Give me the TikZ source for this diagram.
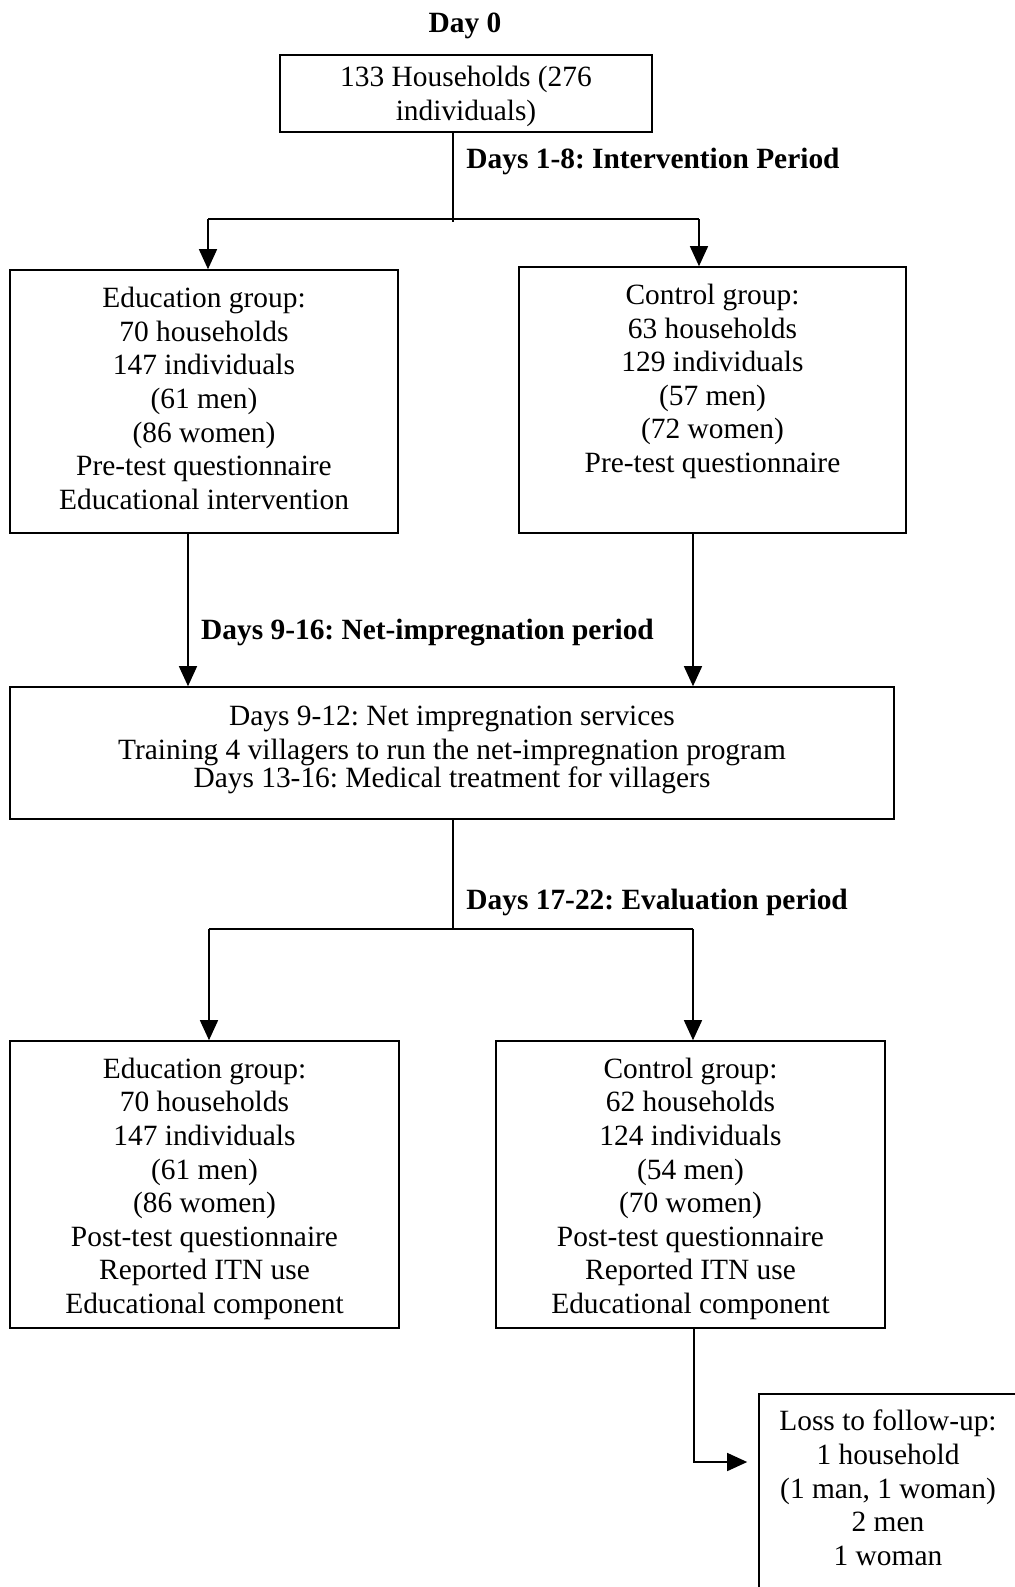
\documentclass[tikz,border=0pt]{standalone}
\usepackage{fontspec}
\setmainfont{Liberation Serif}
\usetikzlibrary{arrows.meta}
\frenchspacing
\begin{document}
\begin{tikzpicture}[x=0.5pt,y=-0.5pt,
  box/.style={draw, line width=0.8pt, align=center, inner sep=0pt,
    font=\fontsize{14.7}{16.8}\selectfont\frenchspacing},
  lbl/.style={inner sep=0pt, font=\fontsize{14.7}{16.8}\selectfont\bfseries\frenchspacing},
  conn/.style={line width=0.7pt},
  arr/.style={line width=0.7pt, -{Triangle[length=10pt,width=9pt]}}]
\useasboundingbox (0,0) rectangle (1015,1587);
\clip (0,0) rectangle (1015,1587);

\node[lbl] (d0) at (465,26) {Day 0};
\node[box, minimum width=186pt, minimum height=38.5pt] (top) at (466,93.5)
  {133 Households (276\\individuals)\\[-16.8pt]\mbox{}};
\node[lbl, anchor=west] (l1) at (466,161) {Days 1-8: Intervention Period};

\node[box, minimum width=194pt, minimum height=131.5pt] (e1) at (204,401.5)
  {Education group:\\70 households\\147 individuals\\(61 men)\\(86 women)\\Pre-test questionnaire\\Educational intervention\\[-13.6pt]\mbox{}};
\node[box, minimum width=193.5pt, minimum height=133pt] (c1) at (712.5,400)
  {Control group:\\63 households\\129 individuals\\(57 men)\\(72 women)\\Pre-test questionnaire\\[5pt]\mbox{}};

\node[lbl] (l2) at (427.5,633) {Days 9-16: Net-impregnation period};

\node[box, minimum width=442pt, minimum height=66pt] (mid) at (452,753)
  {Days 9-12: Net impregnation services\\Training 4 villagers to run the net-impregnation program\\[-2.8pt]Days 13-16: Medical treatment for villagers\\[-10.3pt]\mbox{}};

\node[lbl, anchor=west] (l3) at (466,902) {Days 17-22: Evaluation period};

\node[box, minimum width=194.5pt, minimum height=143.5pt] (e2) at (204.5,1184.5)
  {\mbox{}\\[-2.2pt]Education group:\\70 households\\147 individuals\\(61 men)\\(86 women)\\Post-test questionnaire\\Reported ITN use\\Educational component};
\node[box, minimum width=194.5pt, minimum height=143.5pt] (c2) at (690.5,1184.5)
  {\mbox{}\\[-2.2pt]Control group:\\62 households\\124 individuals\\(54 men)\\(70 women)\\Post-test questionnaire\\Reported ITN use\\Educational component};

\node[box, minimum width=129pt, minimum height=100pt] (loss) at (888,1494)
  {Loss to follow-up:\\1 household\\(1 man, 1 woman)\\2 men\\1 woman\\[-10.6pt]\mbox{}};

% connectors, top split
\coordinate (j1) at (453,219);
\coordinate (a1) at (208,219);
\coordinate (a2) at (699,219);
\draw[conn] (j1 |- top.south) -- ([yshift=-1.5pt]j1);
\draw[conn] (a1) -- (a2);
\draw[arr] (a1) -- (a1 |- e1.north);
\draw[arr] (a2) -- (a2 |- c1.north);

% into middle box
\coordinate (b1) at (188,0);
\coordinate (b2) at (693,0);
\draw[arr] (b1 |- e1.south) -- (b1 |- mid.north);
\draw[arr] (b2 |- c1.south) -- (b2 |- mid.north);

% lower split
\coordinate (j2) at (453,929);
\coordinate (a3) at (209,929);
\coordinate (a4) at (693,929);
\draw[conn] (j2 |- mid.south) -- (j2);
\draw[conn] (a3) -- (a4);
\draw[arr] (a3) -- (a3 |- e2.north);
\draw[arr] (a4) -- (a4 |- c2.north);

% loss to follow-up
\coordinate (k) at (694,1462);
\draw[arr, shorten >=5.5pt] (k |- c2.south) |- (loss.west |- k);
\end{tikzpicture}
\end{document}
